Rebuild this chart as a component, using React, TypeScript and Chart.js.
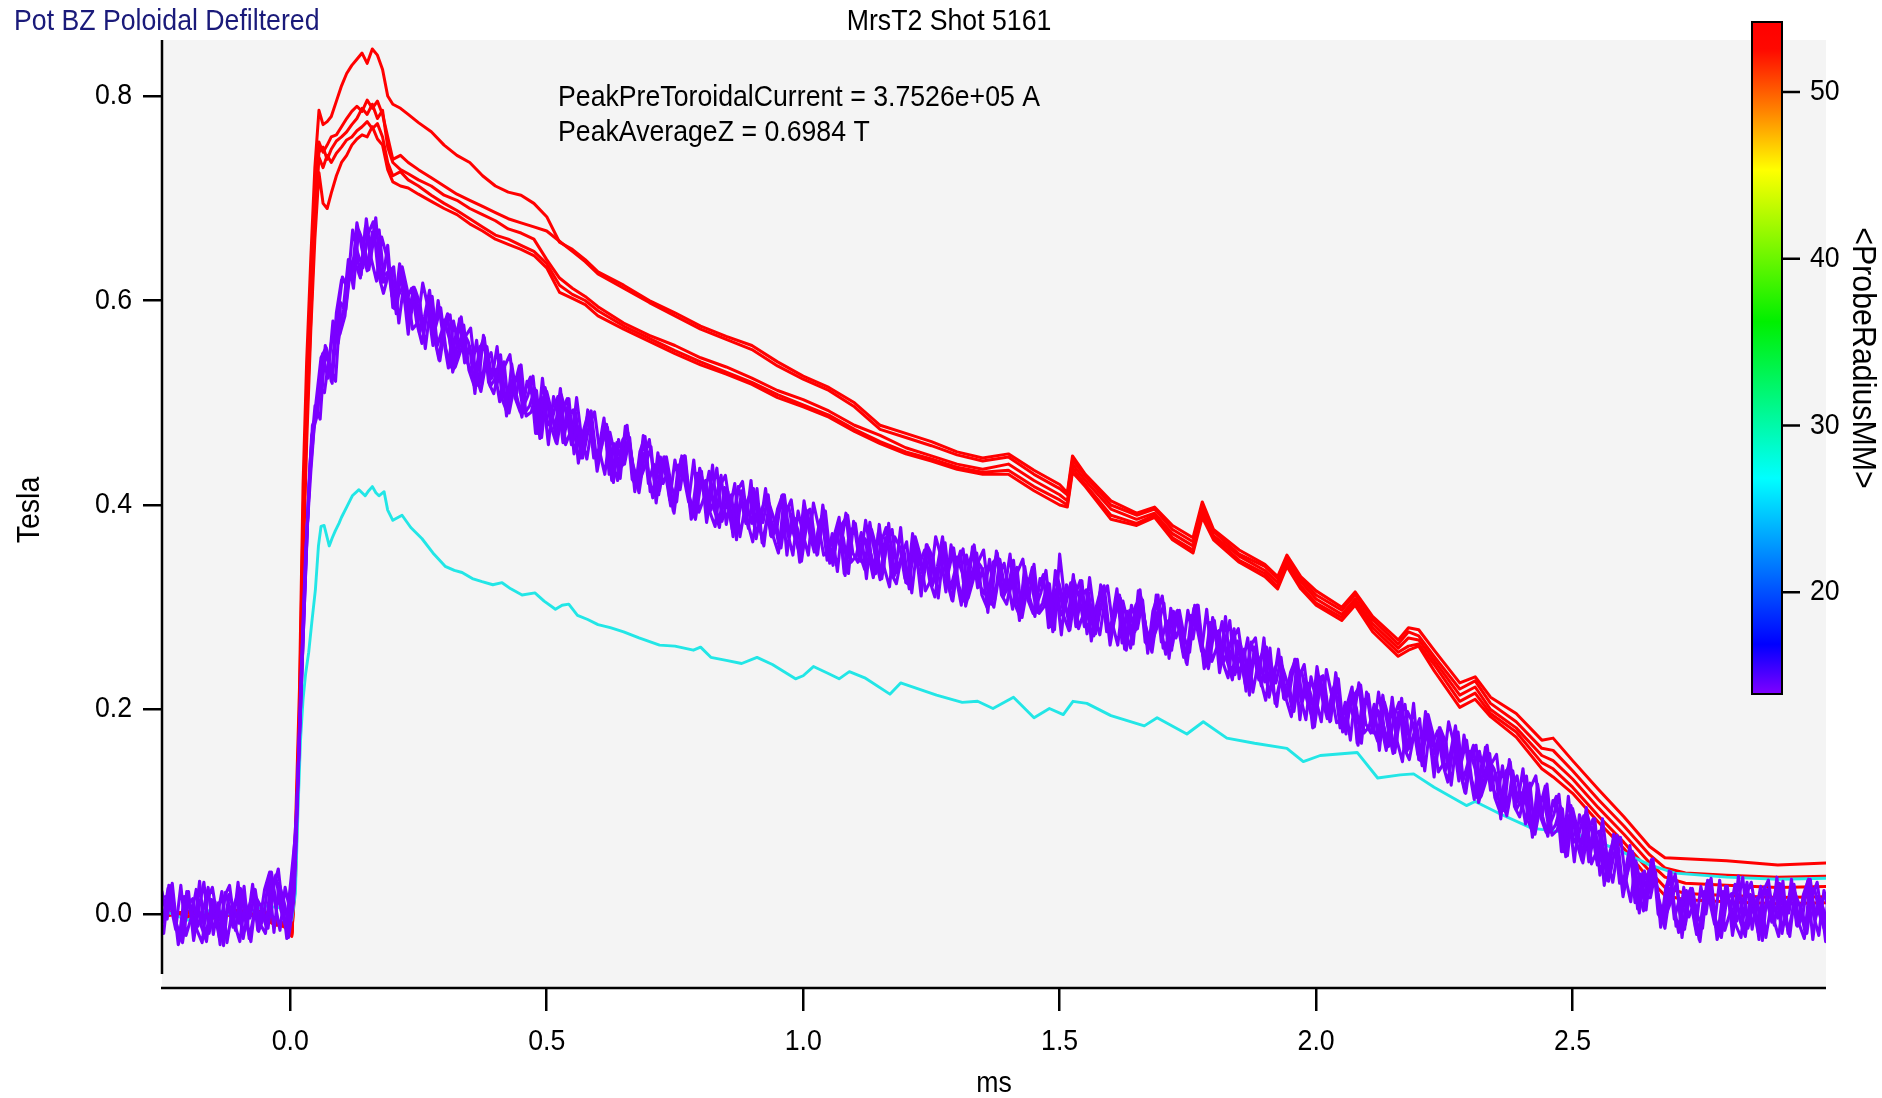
import React, { useEffect, useRef } from "react";
import { Chart, registerables } from "chart.js";

Chart.register(...registerables);

// ---------------- texts ----------------
const TITLE_LEFT = "Pot BZ Poloidal Defiltered";
const TITLE_CENTER = "MrsT2 Shot 5161";
const NOTE_LINES = ["PeakPreToroidalCurrent = 3.7526e+05 A", "PeakAverageZ = 0.6984 T"];
const X_LABEL = "ms";
const Y_LABEL = "Tesla";
const CB_LABEL = "<ProbeRadiusMM>";

// ---------------- axes ----------------
const X_RANGE = [-0.25, 2.994];
const Y_RANGE = [-0.0724, 0.8548];
const X_TICKS = [0, 0.5, 1, 1.5, 2, 2.5];
const Y_TICKS = [0, 0.2, 0.4, 0.6, 0.8];
const CB_RANGE = [13.9, 54.2];
const CB_TICKS = [20, 30, 40, 50];
// colour table (fraction from top, colour)
const CB_STOPS: [number, string][] = [
  [0, "#ff0000"], [0.04, "#ff0800"], [0.13, "#ff8000"], [0.22, "#ffff00"],
  [0.446, "#00f000"], [0.679, "#00ffff"], [0.926, "#0000ff"], [1, "#8000ff"],
];

const RED = "#ff0000";
const CYAN = "#22e6e6";
const VIOLET = "#7a00ff";

// ---------------- red probes (r ~ 54 mm) ----------------
const redT = [
  -0.25, -0.2, -0.15, -0.1, -0.05, -0.03, -0.01, 0.003, 0.01, 0.018,
  0.025, 0.032, 0.04, 0.048, 0.056, 0.064, 0.072, 0.08, 0.09, 0.1,
  0.11, 0.12, 0.13, 0.14, 0.15, 0.16, 0.17, 0.18, 0.19, 0.2,
  0.215, 0.23, 0.25, 0.275, 0.3, 0.325, 0.35, 0.375, 0.4, 0.425,
  0.45, 0.475, 0.5, 0.525, 0.55, 0.575, 0.6, 0.65, 0.7, 0.75,
  0.8, 0.85, 0.9, 0.95, 1.0, 1.05, 1.1, 1.15, 1.2, 1.25,
  1.3, 1.35, 1.4, 1.45, 1.5, 1.515, 1.525, 1.55, 1.6, 1.65,
  1.685, 1.72, 1.76, 1.778, 1.8, 1.85, 1.9, 1.925, 1.943, 1.97,
  2.0, 2.05, 2.076, 2.11, 2.16, 2.18, 2.2, 2.23, 2.28, 2.31,
  2.34, 2.39, 2.44, 2.462, 2.5, 2.55, 2.6, 2.65, 2.68, 2.72,
  2.8, 2.9, 3.0,
];
const red1 = [
  .002, -.004, .003, -.002, .001, -.006, -.010, -.020, .080, .220,
  .420, .540, .640, .730, .786, .772, .775, .780, .795, .810,
  .822, .830, .836, .842, .832, .846, .840, .826, .800, .792,
  .788, .782, .774, .765, .752, .742, .735, .722, .712, .706,
  .703, .695, .682, .657, .650, .640, .628, .615, .600, .588,
  .575, .565, .556, .540, .526, .515, .500, .478, .470, .462,
  .452, .446, .450, .434, .420, .412, .448, .430, .404, .392,
  .398, .380, .368, .403, .376, .356, .342, .330, .351, .330,
  .316, .300, .315, .291, .268, .280, .278, .258, .226, .232,
  .212, .196, .170, .172, .150, .122, .095, .066, .055, .054,
  .052, .048, .050,
];
const red2 = [
  -.003, .003, -.001, .004, -.002, -.008, -.012, -.022, .060, .200,
  .390, .510, .610, .700, .755, .745, .752, .760, .762, .770,
  .778, .785, .790, .785, .796, .788, .795, .782, .760, .738,
  .742, .735, .728, .720, .712, .704, .698, .692, .686, .680,
  .676, .672, .668, .658, .648, .638, .626, .612, .598, .585,
  .572, .562, .552, .536, .523, .512, .496, .474, .466, .458,
  .449, .443, .447, .430, .416, .410, .444, .428, .400, .390,
  .396, .376, .364, .398, .374, .352, .340, .328, .348, .328,
  .312, .297, .312, .288, .264, .276, .272, .252, .220, .228,
  .206, .188, .162, .160, .140, .112, .086, .058, .045, .040,
  .038, .036, .037,
];
const red3 = [
  .000, .002, -.004, .001, .003, -.010, -.008, -.018, .050, .190,
  .370, .490, .600, .690, .745, .750, .738, .748, .756, .760,
  .765, .772, .778, .788, .782, .792, .778, .786, .750, .735,
  .728, .724, .718, .712, .703, .698, .690, .684, .678, .670,
  .666, .660, .640, .622, .612, .604, .594, .578, .566, .556,
  .544, .535, .524, .512, .503, .492, .478, .468, .456, .448,
  .440, .435, .440, .424, .410, .404, .440, .424, .396, .386,
  .392, .372, .360, .394, .370, .350, .336, .324, .345, .325,
  .308, .293, .308, .284, .260, .270, .268, .248, .214, .222,
  .200, .182, .155, .150, .132, .104, .078, .050, .036, .030,
  .028, .026, .027,
];
const red4 = [
  .004, -.002, .002, -.003, .000, -.009, -.013, -.021, .040, .180,
  .360, .480, .580, .680, .740, .730, .742, .735, .744, .750,
  .757, .760, .766, .770, .775, .768, .773, .760, .735, .722,
  .726, .718, .712, .703, .695, .688, .680, .672, .664, .660,
  .654, .648, .636, .615, .606, .600, .590, .575, .563, .551,
  .540, .530, .520, .508, .498, .488, .474, .462, .452, .445,
  .437, .432, .434, .418, .405, .400, .436, .420, .390, .382,
  .390, .368, .356, .392, .368, .346, .333, .320, .342, .321,
  .304, .290, .305, .280, .256, .262, .264, .244, .208, .216,
  .196, .178, .148, .142, .124, .096, .070, .042, .026, .020,
  .018, .016, .017,
];
const red5 = [
  -.002, .001, .000, .002, -.004, -.011, -.011, -.019, .030, .170,
  .340, .460, .570, .660, .725, .695, .690, .705, .722, .735,
  .742, .752, .758, .762, .760, .770, .758, .752, .728, .716,
  .712, .710, .704, .697, .690, .684, .675, .668, .660, .655,
  .650, .644, .632, .608, .602, .596, .585, .572, .560, .548,
  .537, .528, .518, .505, .496, .486, .472, .460, .450, .443,
  .435, .430, .430, .414, .400, .398, .432, .418, .386, .380,
  .388, .366, .353, .388, .366, .344, .330, .318, .340, .318,
  .302, .287, .302, .276, .252, .258, .262, .238, .202, .210,
  .193, .173, .142, .134, .118, .090, .064, .034, .018, .014,
  .012, .010, .011,
];

// ---------------- cyan probe (r ~ 27 mm) ----------------
const cyanT = [
  -0.25, -0.2, -0.15, -0.1, -0.05, -0.02, 0.003, 0.01, 0.015, 0.02,
  0.025, 0.03, 0.036, 0.042, 0.049, 0.055, 0.06, 0.066, 0.072, 0.076,
  0.082, 0.088, 0.095, 0.1, 0.11, 0.121, 0.134, 0.146, 0.153, 0.16,
  0.167, 0.173, 0.183, 0.19, 0.2, 0.218, 0.235, 0.257, 0.28, 0.302,
  0.32, 0.335, 0.355, 0.374, 0.395, 0.413, 0.43, 0.452, 0.477, 0.495,
  0.517, 0.53, 0.543, 0.56, 0.58, 0.6, 0.624, 0.65, 0.68, 0.72,
  0.75, 0.786, 0.8, 0.82, 0.85, 0.88, 0.91, 0.94, 0.985, 1.0,
  1.02, 1.05, 1.07, 1.09, 1.12, 1.169, 1.19, 1.22, 1.26, 1.31,
  1.34, 1.37, 1.41, 1.45, 1.48, 1.507, 1.526, 1.553, 1.6, 1.665,
  1.69, 1.748, 1.78, 1.826, 1.88, 1.943, 1.975, 2.008, 2.08, 2.12,
  2.164, 2.19, 2.23, 2.293, 2.31, 2.358, 2.42, 2.48, 2.53, 2.6,
  2.65, 2.7, 2.8, 2.9, 3.0,
];
const cyan1 = [
  .004, -.006, .005, -.003, .008, .006, -.006, .020, .100, .170,
  .210, .235, .256, .285, .317, .360, .379, .380, .368, .360,
  .368, .375, .382, .388, .398, .409, .415, .409, .414, .418,
  .412, .409, .413, .395, .385, .390, .378, .367, .352, .340,
  .336, .334, .328, .325, .322, .324, .318, .312, .314, .306,
  .298, .302, .303, .292, .288, .283, .280, .276, .270, .263,
  .262, .258, .261, .251, .248, .245, .251, .244, .230, .233,
  .242, .235, .230, .237, .231, .215, .226, .221, .214, .207,
  .208, .201, .212, .192, .201, .195, .208, .206, .194, .184,
  .192, .176, .188, .172, .167, .162, .149, .155, .158, .133,
  .136, .137, .124, .106, .110, .098, .084, .080, .075, .060,
  .048, .040, .036, .034, .035,
];

// ---------------- violet probes (r ~ 14 mm), wave-scaled, 0.01 ms per sample ----------------
const VIOLET_DT = 0.01;
const violet1T0 = -0.25;
const violet1 = [
  .022, -.005, .030, -.018, -.028, .008, .015, -.012, .003, .026,
  -.020, .011, -.031, .019, .006, -.009, .027, -.024, .001, -.010,
  .024, .041, .011, -.016, .026, .002, .049, .215, .354, .432,
  .499, .544, .554, .521, .588, .620, .619, .621, .676, .650,
  .629, .667, .649, .618, .654, .593, .604, .614, .567, .613,
  .592, .566, .603, .566, .542, .581, .563, .534, .582, .539,
  .555, .509, .555, .556, .516, .524, .547, .498, .522, .505,
  .537, .487, .491, .512, .466, .511, .491, .460, .492, .504,
  .460, .477, .446, .493, .459, .441, .475, .462, .422, .464,
  .446, .467, .429, .412, .447, .464, .424, .414, .447, .405,
  .444, .415, .448, .398, .386, .419, .424, .395, .408, .429,
  .381, .410, .366, .414, .399, .382, .416, .363, .387, .369,
  .396, .410, .372, .351, .394, .371, .351, .402, .379, .351,
  .356, .369, .388, .333, .374, .379, .352, .337, .383, .351,
  .327, .368, .356, .334, .378, .324, .340, .355, .311, .361,
  .344, .322, .362, .327, .307, .349, .334, .308, .359, .319,
  .338, .295, .344, .348, .310, .321, .346, .298, .324, .308,
  .342, .294, .301, .323, .278, .352, .307, .278, .312, .326,
  .284, .303, .274, .322, .289, .272, .308, .297, .258, .302,
  .285, .308, .271, .256, .292, .311, .272, .263, .297, .257,
  .297, .269, .302, .252, .240, .273, .277, .247, .259, .279,
  .230, .259, .214, .261, .245, .227, .260, .206, .228, .210,
  .236, .249, .211, .190, .232, .209, .188, .239, .215, .187,
  .191, .204, .222, .167, .207, .212, .184, .169, .214, .182,
  .157, .197, .185, .162, .206, .151, .166, .179, .134, .182,
  .163, .139, .177, .141, .119, .159, .142, .114, .163, .121,
  .138, .093, .140, .141, .102, .111, .135, .086, .111, .094,
  .127, .077, .082, .103, .057, .103, .082, .050, .082, .093,
  .048, .064, .032, .078, .043, .024, .057, .043, .001, .042,
  .022, .042, .003, -.014, .021, .039, -.001, -.010, .025, -.014,
  .027, .000, .035, -.013, -.023, .013, .020, -.007, .008, .031,
  -.015, .016, -.026, .024, .011, -.004, .032, -.019, .006, -.010,
  .019, .034, -.002, -.021, .023, .002,
];
const violet2T0 = -0.2467;
const violet2 = [
  -.019, .028, -.002, -.025, .017, .007, -.014, .032, -.021, -.004,
  .012, -.030, .021, .005, -.016, .025, -.008, -.027, .016, .007,
  -.013, .041, .008, .020, -.024, .023, .112, .244, .380, .478,
  .490, .548, .524, .580, .558, .591, .640, .612, .669, .656,
  .630, .662, .669, .618, .628, .592, .636, .599, .579, .611,
  .596, .553, .594, .574, .593, .553, .535, .568, .584, .542,
  .530, .561, .518, .555, .524, .555, .503, .490, .522, .526,
  .495, .507, .526, .477, .505, .459, .506, .490, .471, .504,
  .450, .472, .453, .479, .491, .452, .430, .471, .448, .426,
  .477, .452, .424, .427, .440, .457, .402, .442, .447, .418,
  .403, .448, .416, .391, .431, .418, .395, .439, .384, .399,
  .413, .369, .418, .400, .377, .416, .381, .360, .402, .386,
  .359, .410, .369, .387, .344, .392, .396, .358, .369, .394,
  .347, .373, .358, .392, .344, .350, .373, .328, .376, .357,
  .328, .363, .376, .334, .352, .323, .372, .340, .323, .359,
  .348, .309, .353, .335, .358, .321, .306, .342, .361, .322,
  .313, .347, .307, .347, .318, .352, .302, .290, .324, .329,
  .300, .314, .336, .288, .317, .273, .322, .308, .291, .326,
  .274, .298, .281, .308, .321, .283, .263, .306, .284, .264,
  .316, .293, .266, .271, .285, .304, .250, .291, .297, .270,
  .256, .302, .270, .245, .285, .272, .248, .291, .235, .249,
  .262, .218, .266, .247, .223, .261, .225, .203, .243, .227,
  .199, .249, .208, .226, .182, .230, .233, .195, .205, .230,
  .182, .208, .192, .226, .177, .183, .205, .160, .207, .188,
  .158, .192, .205, .162, .180, .150, .198, .164, .146, .180,
  .167, .126, .168, .149, .170, .131, .114, .148, .165, .124,
  .113, .145, .103, .140, .110, .142, .091, .078, .111, .115,
  .085, .097, .117, .068, .096, .051, .097, .080, .061, .093,
  .038, .059, .039, .064, .075, .035, .012, .052, .027, .004,
  .053, .027, -.002, .001, .014, .032, -.023, .018, .025, -.001,
  -.014, .033, .003, -.020, .022, .012, -.009, .037, -.016, .001,
  .017, -.025, .026, .010, -.011, .030, -.003, -.022, .021, .007,
  -.018, .034, -.005, .015, -.027, .023,
];
const violet3T0 = -0.2433;
const violet3 = [
  .017, .009, -.015, .028, -.021, -.004, .024, -.012, -.027, .014,
  -.006, .022, -.028, .003, .018, -.019, -.009, .029, -.016, .005,
  -.014, .024, .044, -.001, -.023, .012, .158, .290, .420, .478,
  .515, .510, .548, .578, .567, .585, .637, .637, .622, .672,
  .643, .681, .623, .626, .631, .587, .632, .601, .612, .578,
  .558, .589, .604, .556, .572, .587, .530, .548, .570, .560,
  .541, .517, .566, .520, .509, .531, .540, .490, .516, .536,
  .490, .497, .514, .465, .515, .494, .475, .514, .459, .472,
  .490, .446, .476, .492, .446, .457, .479, .424, .461, .438,
  .478, .425, .418, .451, .437, .407, .451, .421, .433, .394,
  .439, .429, .403, .444, .393, .407, .433, .395, .378, .417,
  .395, .421, .369, .398, .411, .372, .380, .416, .370, .384,
  .358, .393, .405, .366, .345, .381, .388, .351, .389, .346,
  .372, .335, .382, .390, .353, .344, .370, .353, .329, .373,
  .341, .382, .330, .342, .355, .318, .368, .342, .356, .326,
  .310, .345, .363, .317, .337, .355, .301, .322, .347, .340,
  .324, .303, .355, .312, .303, .328, .339, .290, .318, .339,
  .295, .304, .324, .276, .327, .308, .291, .332, .279, .294,
  .314, .272, .304, .321, .276, .288, .312, .259, .297, .276,
  .317, .266, .260, .295, .282, .254, .299, .270, .283, .246,
  .292, .283, .257, .298, .247, .261, .286, .247, .229, .267,
  .244, .270, .217, .245, .257, .217, .224, .259, .211, .225,
  .198, .232, .244, .205, .183, .219, .225, .188, .225, .182,
  .207, .170, .216, .224, .186, .177, .202, .185, .160, .204,
  .171, .211, .159, .170, .183, .145, .194, .166, .179, .147,
  .129, .162, .178, .131, .149, .165, .109, .128, .151, .142,
  .124, .101, .151, .105, .095, .118, .128, .078, .105, .125,
  .080, .087, .105, .056, .106, .086, .066, .104, .049, .061,
  .078, .033, .062, .077, .030, .040, .061, .005, .040, .016,
  .054, .000, -.008, .025, .011, -.018, .026, -.003, .011, -.025,
  .022, .014, -.010, .033, -.016, .001, .029, -.007, -.022, .019,
  -.001, .027, -.023, .008, .023, -.014, -.004, .034, -.011, .005,
  -.019, .017, .031, -.006, -.026, .012,
];
const violet4T0 = -0.2483;
const violet4 = [
  -.008, .025, .014, -.030, -.012, .022, -.026, .005, .031, -.019,
  .003, -.023, .017, .028, -.010, -.027, .012, -.004, .024, -.010,
  -.019, .021, .038, .004, -.013, .035, .086, .236, .366, .468,
  .486, .531, .548, .519, .582, .623, .612, .669, .646, .632,
  .665, .677, .626, .607, .626, .633, .578, .617, .590, .613,
  .569, .584, .610, .563, .541, .575, .586, .535, .550, .565,
  .573, .527, .511, .539, .549, .516, .534, .487, .538, .506,
  .486, .521, .508, .470, .524, .478, .486, .506, .461, .488,
  .493, .441, .473, .491, .446, .455, .485, .430, .460, .438,
  .440, .466, .413, .452, .467, .413, .420, .447, .430, .399,
  .414, .445, .432, .386, .402, .433, .383, .412, .436, .384,
  .404, .376, .414, .423, .383, .364, .401, .383, .410, .369,
  .353, .390, .399, .371, .355, .404, .374, .354, .383, .394,
  .343, .356, .382, .331, .368, .382, .345, .385, .353, .333,
  .363, .378, .333, .323, .350, .364, .314, .358, .334, .361,
  .321, .340, .369, .324, .306, .343, .357, .309, .327, .345,
  .356, .313, .300, .331, .343, .313, .333, .287, .340, .309,
  .291, .328, .318, .281, .336, .292, .302, .324, .281, .310,
  .317, .267, .301, .320, .276, .286, .318, .265, .296, .276,
  .279, .307, .255, .296, .312, .260, .268, .296, .280, .251,
  .267, .299, .286, .240, .256, .287, .236, .264, .287, .234,
  .253, .225, .262, .270, .229, .209, .245, .226, .251, .210,
  .193, .229, .238, .210, .193, .242, .211, .191, .219, .230,
  .178, .191, .216, .165, .201, .215, .177, .217, .184, .164,
  .193, .207, .162, .151, .178, .191, .140, .182, .157, .182,
  .140, .157, .184, .138, .118, .153, .165, .115, .131, .147,
  .156, .111, .096, .124, .135, .103, .122, .075, .127, .095,
  .076, .111, .099, .061, .115, .070, .077, .096, .051, .077,
  .081, .028, .059, .076, .030, .038, .067, .011, .039, .016,
  .016, .041, -.013, .026, .041, -.012, -.005, .023, .008, -.020,
  -.003, .030, .019, -.025, -.007, .027, -.021, .010, .036, -.014,
  .008, -.018, .022, .033, -.005, -.022, .017, .001, .029, -.010,
  -.024, .014, .025, -.001, -.016, .035,
];
const violet5T0 = -0.2417;
const violet5 = [
  .011, .028, -.010, -.025, .022, .003, -.016, -.028, .014, .026,
  -.006, -.020, .009, -.013, .031, -.024, .005, .021, -.017, -.003,
  .037, -.018, .030, .011, -.014, .024, .174, .318, .440, .497,
  .484, .556, .534, .521, .598, .591, .635, .646, .625, .680,
  .640, .619, .662, .643, .604, .611, .633, .610, .572, .578,
  .617, .594, .556, .600, .564, .534, .580, .554, .576, .532,
  .517, .551, .564, .521, .533, .501, .536, .547, .505, .491,
  .513, .525, .470, .496, .511, .477, .461, .508, .489, .459,
  .505, .464, .445, .478, .433, .461, .476, .442, .424, .464,
  .471, .439, .422, .468, .421, .440, .410, .447, .425, .392,
  .433, .448, .408, .391, .436, .414, .393, .379, .419, .429,
  .395, .379, .406, .382, .424, .367, .394, .408, .369, .376,
  .409, .351, .391, .378, .354, .393, .362, .352, .400, .363,
  .341, .381, .368, .333, .384, .350, .368, .362, .332, .381,
  .338, .320, .369, .359, .328, .342, .369, .351, .316, .326,
  .369, .350, .315, .361, .329, .302, .351, .328, .353, .312,
  .300, .337, .353, .313, .327, .298, .335, .347, .307, .294,
  .318, .332, .280, .307, .323, .291, .277, .326, .309, .281,
  .329, .290, .273, .307, .263, .292, .309, .277, .260, .302,
  .310, .280, .264, .312, .266, .287, .258, .296, .275, .244,
  .286, .302, .262, .245, .290, .268, .246, .231, .270, .279,
  .244, .228, .254, .229, .270, .212, .238, .251, .210, .217,
  .249, .190, .230, .217, .192, .231, .199, .189, .236, .199,
  .176, .216, .202, .167, .217, .183, .200, .194, .163, .212,
  .168, .149, .198, .187, .156, .169, .195, .175, .139, .147,
  .188, .167, .130, .175, .141, .112, .159, .134, .157, .114,
  .100, .135, .149, .106, .119, .088, .124, .135, .094, .080,
  .103, .115, .061, .087, .102, .069, .052, .098, .079, .048,
  .093, .051, .031, .063, .017, .044, .058, .023, .003, .042,
  .047, .014, -.004, .042, -.005, .015, -.015, .023, .003, -.027,
  .016, .033, -.005, -.020, .027, .008, -.011, -.023, .019, .031,
  -.001, -.015, .014, -.008, .036, -.019, .010, .026, -.012, -.003,
  .032, -.025, .017, .006, -.017, .024,
];

const FONT = '"Liberation Sans", Arial, Helvetica, sans-serif';
const FONT_PX = 29;
const FONT_SX = 0.92; // the original lettering is slightly condensed

const paired = (xs: number[], ys: number[]) => ys.map((y, i) => ({ x: xs[i], y }));
const waveScaled = (t0: number, dt: number, ys: number[]) =>
  ys.map((y, i) => ({ x: Math.round((t0 + i * dt) * 1e6) / 1e6, y }));

const lineDs = (data: any[], color: string, width: number, order: number) => ({
  data,
  borderColor: color,
  backgroundColor: color,
  borderWidth: width,
  pointRadius: 0,
  fill: false,
  tension: 0,
  borderJoinStyle: "round" as const,
  borderCapStyle: "round" as const,
  order,
});

function drawText(ctx: CanvasRenderingContext2D, s: string, x: number, y: number, align: CanvasTextAlign, rot = 0, size = FONT_PX) {
  ctx.save();
  ctx.translate(x, y);
  if (rot) ctx.rotate(rot);
  ctx.scale(FONT_SX, 1);
  ctx.font = `${size}px ${FONT}`;
  ctx.textAlign = align;
  ctx.textBaseline = "middle";
  ctx.fillText(s, 0, 0);
  ctx.restore();
}

const decorPlugin = {
  id: "decor",
  beforeDraw(chart: any) {
    const { ctx, chartArea: a } = chart;
    ctx.save();
    ctx.fillStyle = "#ffffff";
    ctx.fillRect(0, 0, chart.width, chart.height);
    ctx.fillStyle = "#f4f4f4";
    ctx.fillRect(a.left, a.top, a.right - a.left, a.bottom - a.top);
    ctx.restore();
  },
  afterDraw(chart: any) {
    const { ctx, chartArea: a } = chart;
    const xs = chart.scales.x;
    const ys = chart.scales.y;
    ctx.save();
    // axis lines (y axis stops short of the offset x axis)
    ctx.strokeStyle = "#000";
    ctx.lineWidth = 2.5;
    ctx.beginPath();
    ctx.moveTo(a.left, a.top);
    ctx.lineTo(a.left, a.bottom - 14);
    ctx.moveTo(a.left - 1, a.bottom);
    ctx.lineTo(a.right, a.bottom);
    ctx.stroke();

    // tick labels at the scales' own pixel positions
    ctx.fillStyle = "#000";
    X_TICKS.forEach((v) => drawText(ctx, v.toFixed(1), xs.getPixelForValue(v), 1042, "center"));
    Y_TICKS.forEach((v) => drawText(ctx, v.toFixed(1), 132, ys.getPixelForValue(v), "right"));

    // titles and notes
    ctx.fillStyle = "#1a1a7a";
    drawText(ctx, TITLE_LEFT, 14, 22, "left");
    ctx.fillStyle = "#000";
    drawText(ctx, TITLE_CENTER, 949, 22, "center");
    NOTE_LINES.forEach((s, i) => drawText(ctx, s, 558, 98 + i * 35, "left"));
    drawText(ctx, X_LABEL, (a.left + a.right) / 2, 1084, "center");
    drawText(ctx, Y_LABEL, 30, 510, "center", -Math.PI / 2, 31);

    // colour bar
    const cb = { x: 1752, y: 22, w: 30, h: 672 };
    const g = ctx.createLinearGradient(0, cb.y, 0, cb.y + cb.h);
    CB_STOPS.forEach(([f, c]) => g.addColorStop(f, c));
    ctx.fillStyle = g;
    ctx.fillRect(cb.x, cb.y, cb.w, cb.h);
    ctx.lineWidth = 2;
    ctx.strokeStyle = "#000";
    ctx.strokeRect(cb.x, cb.y, cb.w, cb.h);
    const cbY = (v: number) => cb.y + ((CB_RANGE[1] - v) / (CB_RANGE[1] - CB_RANGE[0])) * cb.h;
    ctx.lineWidth = 2.5;
    ctx.beginPath();
    CB_TICKS.forEach((v) => {
      const y = cbY(v);
      ctx.moveTo(cb.x + cb.w, y);
      ctx.lineTo(cb.x + cb.w + 18, y);
    });
    ctx.stroke();
    ctx.fillStyle = "#000";
    CB_TICKS.forEach((v) => drawText(ctx, String(v), cb.x + cb.w + 28, cbY(v), "left"));
    drawText(ctx, CB_LABEL, 1862, 358, "center", Math.PI / 2, 33);
    ctx.restore();
  },
};

export default function App() {
  const ref = useRef<HTMLCanvasElement | null>(null);
  useEffect(() => {
    document.body.style.margin = "0";
    const canvas = ref.current;
    if (!canvas) return;
    const datasets = [
      lineDs(waveScaled(violet1T0, VIOLET_DT, violet1), VIOLET, 3.1, 0),
      lineDs(waveScaled(violet2T0, VIOLET_DT, violet2), VIOLET, 3.1, 0),
      lineDs(waveScaled(violet3T0, VIOLET_DT, violet3), VIOLET, 3.1, 0),
      lineDs(waveScaled(violet4T0, VIOLET_DT, violet4), VIOLET, 3.1, 0),
      lineDs(waveScaled(violet5T0, VIOLET_DT, violet5), VIOLET, 3.1, 0),
      lineDs(paired(cyanT, cyan1), CYAN, 2.9, 1),
      lineDs(paired(redT, red1), RED, 3.0, 2),
      lineDs(paired(redT, red2), RED, 3.0, 2),
      lineDs(paired(redT, red3), RED, 3.0, 2),
      lineDs(paired(redT, red4), RED, 3.0, 2),
      lineDs(paired(redT, red5), RED, 3.0, 2),
    ];
    const chart = new Chart(canvas, {
      type: "line",
      data: { datasets },
      plugins: [decorPlugin],
      options: {
        responsive: false,
        animation: false,
        events: [],
        layout: { padding: { top: 40, right: 56, left: 0, bottom: 0 } },
        plugins: {
          legend: { display: false },
          tooltip: { enabled: false },
          title: { display: false },
        },
        scales: {
          x: {
            type: "linear",
            min: X_RANGE[0],
            max: X_RANGE[1],
            afterBuildTicks: (s: any) => {
              s.ticks = X_TICKS.map((v) => ({ value: v }));
            },
            afterFit: (s: any) => {
              s.height = 110;
            },
            ticks: { display: false, autoSkip: false, maxRotation: 0, minRotation: 0 },
            grid: { drawOnChartArea: false, drawTicks: true, tickLength: 23, color: "#000", lineWidth: 2.5 },
            border: { display: false },
          },
          y: {
            type: "linear",
            min: Y_RANGE[0],
            max: Y_RANGE[1],
            afterBuildTicks: (s: any) => {
              s.ticks = Y_TICKS.map((v) => ({ value: v }));
            },
            afterFit: (s: any) => {
              s.width = 162;
            },
            ticks: { display: false, autoSkip: false },
            grid: { drawOnChartArea: false, drawTicks: true, tickLength: 19, color: "#000", lineWidth: 2.5 },
            border: { display: false },
          },
        },
      },
    } as any);
    return () => chart.destroy();
  }, []);
  return (
    <div style={{ width: 1882, height: 1098, position: "relative", background: "#fff", overflow: "hidden" }}>
      <canvas ref={ref} width={1882} height={1098} style={{ display: "block", width: 1882, height: 1098 }} />
    </div>
  );
}
